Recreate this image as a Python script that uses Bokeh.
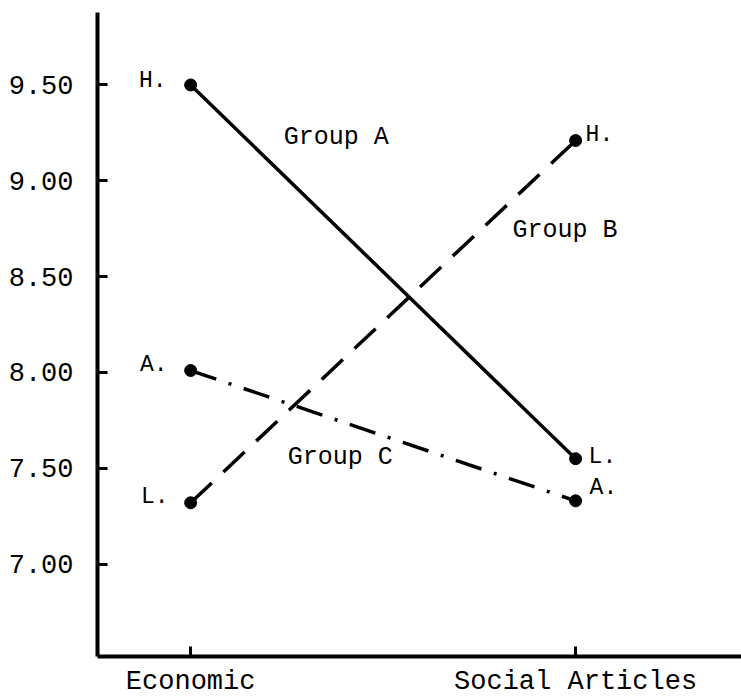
from bokeh.plotting import figure
from bokeh.models import Range1d, FixedTicker, ColumnDataSource
from bokeh.core.properties import value
from bokeh.embed import file_html
from bokeh.resources import INLINE

# ---- data ----
categories = ["Economic", "Social Articles"]
cat_pos = [0, 1]
group_a = [9.50, 7.55]
group_b = [7.32, 9.21]
group_c = [8.01, 7.33]
labels_a = ["H.", "L."]
labels_b = ["L.", "H."]
labels_c = ["A.", "A."]
group_names = ["Group A", "Group B", "Group C"]
group_label_x = [0.242, 0.836, 0.252]
group_label_y = [9.225, 8.74, 7.557]
y_ticks = [7.0, 7.5, 8.0, 8.5, 9.0, 9.5]
y_tick_labels = ["7.00", "7.50", "8.00", "8.50", "9.00", "9.50"]

FONT = "Liberation Mono"

p = figure(width=741, height=699, output_backend="svg", toolbar_location=None,
           x_range=Range1d(-0.242, 1.431), y_range=Range1d(6.518, 9.878),
           min_border_left=97, min_border_top=12, min_border_right=0, min_border_bottom=38)
p.outline_line_color = None
p.xgrid.visible = False
p.ygrid.visible = False
p.background_fill_color = "white"
p.border_fill_color = "white"

# axes
for ax in (p.xaxis[0], p.yaxis[0]):
    ax.axis_line_width = 4
    ax.axis_line_color = "black"
    ax.major_tick_line_width = 3
    ax.major_tick_line_color = "black"
    ax.major_tick_in = 10
    ax.major_tick_out = 0
    ax.minor_tick_line_color = None
    ax.major_label_text_font = FONT
    ax.major_label_text_color = "black"

p.xaxis.ticker = FixedTicker(ticks=cat_pos)
p.xaxis.major_label_overrides = {c: n for c, n in zip(cat_pos, categories)}
p.xaxis.major_label_standoff = 10
p.xaxis.major_label_text_font_size = "27px"

p.yaxis.ticker = FixedTicker(ticks=y_ticks)
p.yaxis.major_label_overrides = {t: l for t, l in zip(y_ticks, y_tick_labels)}
p.yaxis.major_label_standoff = 24
p.yaxis.major_label_text_font_size = "27px"

# lines
p.line(cat_pos, group_a, line_width=3.5, line_color="black")
p.line(cat_pos, group_b, line_width=3.5, line_color="black", line_dash="29 16")
p.line(cat_pos, group_c, line_width=3.5, line_color="black", line_dash="27 13 3 13")

for g in (group_a, group_b, group_c):
    p.scatter(cat_pos, g, size=12, color="black")

# point labels
def add_point_labels(vals, labs, xoffs, yoffs):
    src_left = ColumnDataSource(dict(x=[cat_pos[0]], y=[vals[0]], t=[labs[0]]))
    src_right = ColumnDataSource(dict(x=[cat_pos[1]], y=[vals[1]], t=[labs[1]]))
    p.text(x="x", y="y", text="t", source=src_left, text_align="right", text_baseline="middle",
           x_offset=xoffs[0], y_offset=yoffs[0], text_font=value(FONT), text_font_size="23px",
           text_color="black")
    p.text(x="x", y="y", text="t", source=src_right, text_align="left", text_baseline="middle",
           x_offset=xoffs[1], y_offset=yoffs[1], text_font=value(FONT), text_font_size="23px",
           text_color="black")

add_point_labels(group_a, labels_a, [-24, 13], [-4, -2])
add_point_labels(group_b, labels_b, [-22, 10], [-6, -6])
add_point_labels(group_c, labels_c, [-23, 14], [-6, -13])

# group labels
p.text(x=group_label_x, y=group_label_y, text=group_names, text_align="left", text_baseline="middle",
       text_font=value(FONT), text_font_size="25px", text_color="black")

open("out.html", "w").write(file_html(p, INLINE))
